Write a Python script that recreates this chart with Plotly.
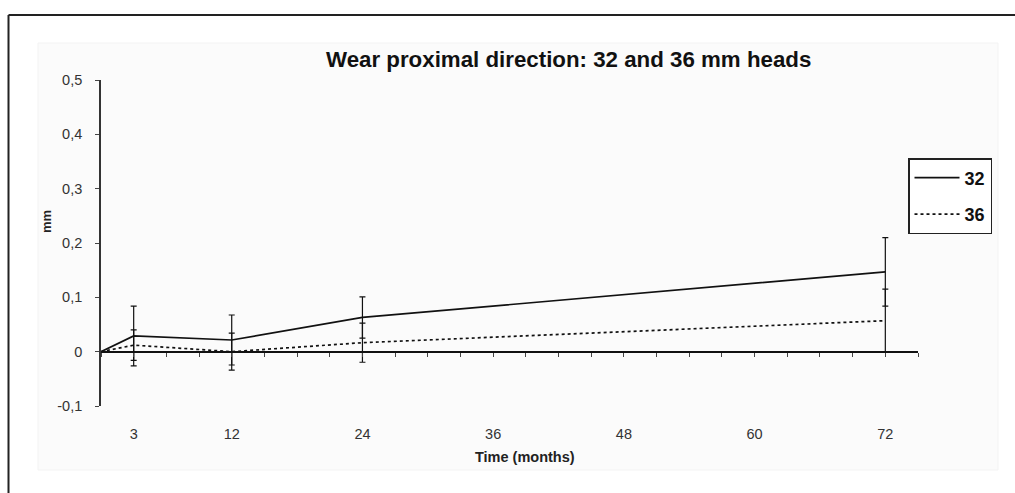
import plotly.graph_objects as go

# ---- data ----
time_months = [0, 3, 12, 24, 72]
wear_32 = [0.0, 0.029, 0.0215, 0.063, 0.147]
err_32 = [0.0, 0.055, 0.046, 0.038, 0.063]
wear_36 = [0.0, 0.012, 0.0, 0.0165, 0.057]
err_36 = [0.0, 0.028, 0.034, 0.036, 0.058]

x_tick_vals = [3, 12, 24, 36, 48, 60, 72]
y_tick_vals = [-0.1, 0.0, 0.1, 0.2, 0.3, 0.4, 0.5]
y_tick_text = ["-0,1", "0", "0,1", "0,2", "0,3", "0,4", "0,5"]

W, H = 1015, 493
L, R, T, B = 101, 918, 80, 406  # plot area in pixels


def px(xp):
    return (xp - L) / (R - L)


def py(yp):
    return (B - yp) / (B - T)


FONT = "Liberation Sans, Arial, sans-serif"

fig = go.Figure()
fig.add_trace(go.Scatter(
    x=time_months, y=wear_32, name="<b>32</b>", mode="lines",
    line=dict(color="#111", width=1.7),
    error_y=dict(type="data", array=err_32, visible=True, color="#111", thickness=1.2, width=3),
    legendgroup="a",
))
fig.add_trace(go.Scatter(
    x=time_months, y=wear_36, name="<b>36</b>", mode="lines",
    line=dict(color="#111", width=1.7, dash="dot"),
    error_y=dict(type="data", array=err_36, visible=True, color="#111", thickness=1.2, width=3),
    legendgroup="b",
))
# invisible trace to carry the overlay x axis placed at y = 0
fig.add_trace(go.Scatter(x=[0], y=[0], xaxis="x2", mode="markers",
                         marker=dict(opacity=0), showlegend=False, hoverinfo="skip"))

shapes = [
    # faint panel
    dict(type="rect", xref="paper", yref="paper", x0=px(38), x1=px(998), y0=py(470), y1=py(43),
         fillcolor="#fbfbfb", line=dict(color="#f3f3f3", width=1), layer="below"),
    # outer frame lines
    dict(type="line", xref="paper", yref="paper", x0=px(8.5), x1=px(1016), y0=py(15), y1=py(15),
         line=dict(color="#222", width=2)),
    dict(type="line", xref="paper", yref="paper", x0=px(8.5), x1=px(8.5), y0=py(15), y1=py(494),
         line=dict(color="#222", width=2)),
]

annotations = [
    dict(text="<b>Wear proximal direction: 32 and 36 mm heads</b>", xref="paper", yref="paper",
         x=px(568), y=py(60), xanchor="center", yanchor="middle", showarrow=False,
         font=dict(family=FONT, size=22.3, color="#111")),
    dict(text="<b>Time (months)</b>", xref="paper", yref="paper",
         x=px(525), y=py(457), xanchor="center", yanchor="middle", showarrow=False,
         font=dict(family=FONT, size=14.5, color="#222")),
    dict(text="<b>mm</b>", xref="paper", yref="paper", textangle=-90,
         x=px(46), y=py(222), xanchor="center", yanchor="middle", showarrow=False,
         font=dict(family=FONT, size=13, color="#222")),
]

fig.update_layout(
    width=W, height=H,
    margin=dict(l=L, r=W - R, t=T, b=H - B, pad=0),
    paper_bgcolor="white", plot_bgcolor="rgba(0,0,0,0)",
    shapes=shapes, annotations=annotations,
    showlegend=True,
    legend=dict(x=px(908), y=py(158), xanchor="left", yanchor="top",
                bordercolor="#222", borderwidth=1.5, bgcolor="white",
                font=dict(family=FONT, size=18, color="#111"),
                tracegroupgap=10, itemwidth=45,
                traceorder="grouped"),
    xaxis=dict(range=[0, 75], tickmode="array", tickvals=x_tick_vals,
               showline=False, showgrid=False, zeroline=False, ticks="",
               ticklabelstandoff=17,
               tickfont=dict(family=FONT, size=14.5, color="#333")),
    xaxis2=dict(range=[0, 75], overlaying="x", anchor="free", position=1 / 6, side="bottom",
                showline=True, linecolor="#111", linewidth=1.7,
                ticks="outside", ticklen=4, tickcolor="#444", tickwidth=1, dtick=3, tick0=0,
                showticklabels=False, showgrid=False, zeroline=False),
    yaxis=dict(range=[-0.1, 0.5], tickmode="array", tickvals=y_tick_vals, ticktext=y_tick_text,
               showline=True, linecolor="#333", linewidth=1.7, ticks="outside", ticklen=4,
               tickcolor="#444", showgrid=False, zeroline=False, ticklabelstandoff=10,
               tickfont=dict(family=FONT, size=14.5, color="#333")),
)

fig.write_html("out.html")
